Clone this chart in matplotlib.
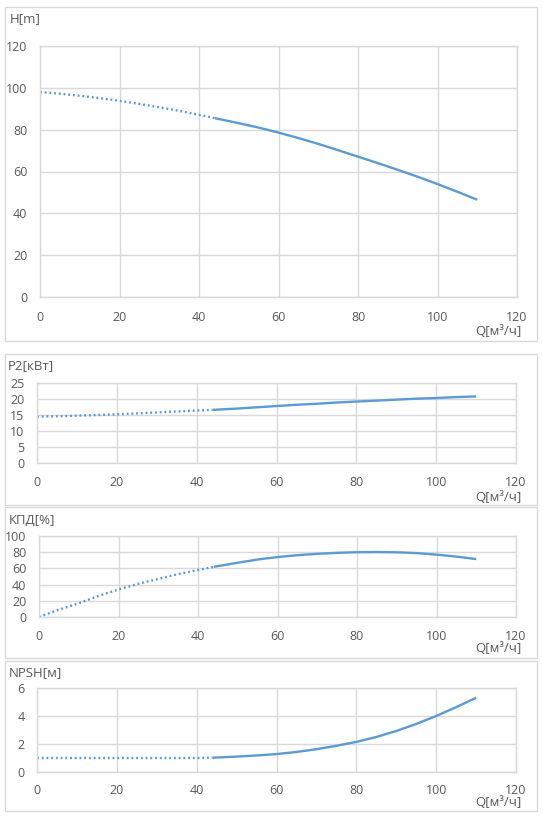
import matplotlib
matplotlib.use("Agg")
import matplotlib.pyplot as plt
from matplotlib.patches import Rectangle

plt.rcParams['font.family'] = ['Open Sans', 'DejaVu Sans']

# ---- data ----
q_dot = [0, 5, 10, 15, 20, 25, 30, 35, 40, 44]
q_sol = [44, 50, 55, 60, 65, 70, 75, 80, 85, 90, 95, 100, 105, 110]

h_dot = [98, 97.2, 96.2, 95.1, 93.8, 92.3, 90.7, 89.0, 87.1, 85.5]
h_sol = [85.5, 83.1, 81.0, 78.6, 76.0, 73.2, 70.2, 67.1, 64.0, 60.8, 57.5, 54.0, 50.3, 46.5]

p2_dot = [14.5, 14.6, 14.8, 15.0, 15.2, 15.5, 15.8, 16.1, 16.4, 16.6]
p2_sol = [16.6, 17.0, 17.4, 17.8, 18.2, 18.5, 18.9, 19.2, 19.5, 19.8, 20.1, 20.3, 20.6, 20.8]

eff_dot = [0, 9, 17, 26, 34, 41, 47, 53, 58, 62]
eff_sol = [62, 67, 71, 74, 76.3, 78, 79.2, 80, 80.2, 79.9, 78.9, 77, 74.6, 71.5]

npsh_dot = [1.0, 1.0, 1.0, 1.0, 1.0, 1.0, 1.0, 1.0, 1.0, 1.02]
npsh_sol = [1.02, 1.1, 1.18, 1.28, 1.43, 1.63, 1.87, 2.15, 2.5, 2.93, 3.43, 4.0, 4.63, 5.3]

titles = ["H[m]", "P2[кВт]", "КПД[%]", "NPSH[м]"]
xlabel = "Q[м³/ч]"
xticks = [0, 20, 40, 60, 80, 100, 120]
yticks = [[0, 20, 40, 60, 80, 100, 120],
          [0, 5, 10, 15, 20, 25],
          [0, 20, 40, 60, 80, 100],
          [0, 2, 4, 6]]
series = [(h_dot, h_sol), (p2_dot, p2_sol), (eff_dot, eff_sol), (npsh_dot, npsh_sol)]

W, H = 543, 818
fig = plt.figure(figsize=(W / 100, H / 100), dpi=100)

# pixel geometry: plot area (left, right, top, bottom), box (left, top, right, bottom)
plots = [(40, 517, 46, 297), (37, 516, 383, 463), (39, 516, 536, 617), (37, 516, 688, 772)]
boxes = [(5, 7, 537, 341), (5, 354, 537, 505), (5, 507, 537, 658), (5, 661, 537, 811)]
title_pos = [(10, 19), (8, 366), (9, 520), (9, 673)]
qlab_y = [331, 497, 648, 803]
xpad = [10, 9, 9, 9]

line_c = '#5B9BD5'
grid_c = '#D9D9D9'
text_c = '#595959'

for i in range(4):
    bl, bt, br, bb = boxes[i]
    fig.patches.append(Rectangle((bl / W, 1 - bb / H), (br - bl) / W, (bb - bt) / H,
                                 transform=fig.transFigure, fill=False,
                                 edgecolor=grid_c, lw=1))
    l, r, t, b = plots[i]
    ax = fig.add_axes([l / W, 1 - b / H, (r - l) / W, (b - t) / H])
    d, s = series[i]
    ax.plot(q_dot, d, color=line_c, lw=1.7, linestyle=(0, (0.8, 1.2)), dash_capstyle='butt')
    ax.plot(q_sol, s, color=line_c, lw=1.7, solid_capstyle='butt')
    ax.set_xlim(0, 120)
    ax.set_ylim(yticks[i][0], yticks[i][-1])
    ax.set_xticks(xticks)
    ax.set_yticks(yticks[i])
    ax.grid(True, color=grid_c, lw=1)
    ax.set_axisbelow(True)
    for sp in ax.spines.values():
        sp.set_color(grid_c)
        sp.set_linewidth(1)
    ax.tick_params(length=0, labelsize=9, labelcolor=text_c, pad=9)
    ax.tick_params(axis='x', pad=xpad[i])
    fig.text(title_pos[i][0] / W, 1 - title_pos[i][1] / H, titles[i],
             fontsize=9.5, color=text_c, ha='left', va='center')
    fig.text(522 / W, 1 - qlab_y[i] / H, xlabel,
             fontsize=9.5, color=text_c, ha='right', va='center')

fig.savefig("out.png", dpi=100, facecolor='white')
